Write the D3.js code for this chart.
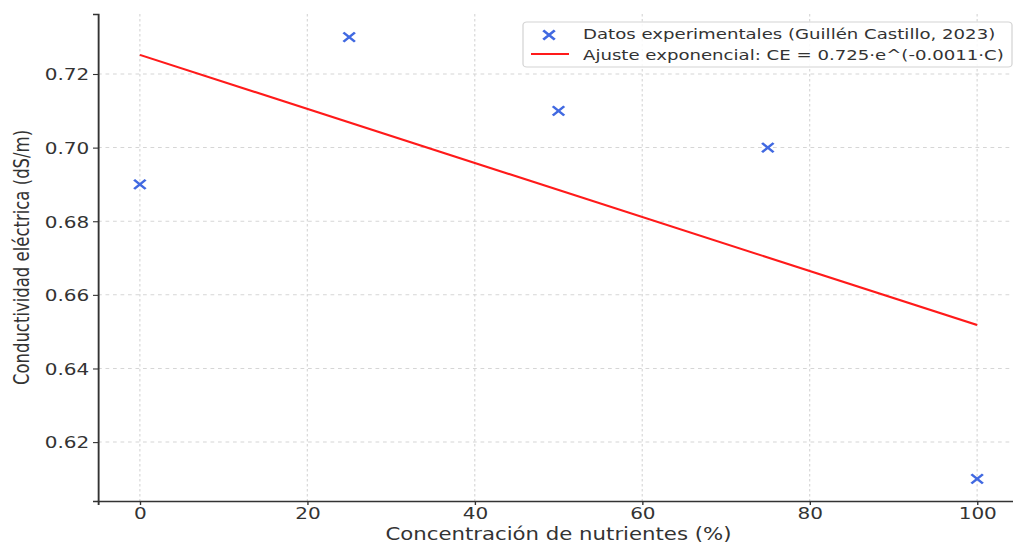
<!DOCTYPE html>
<html>
<head>
<meta charset="utf-8">
<script src="https://cdn.jsdelivr.net/npm/d3@7"></script>
<style>
  body { margin: 0; background: #fff; }
  svg { display: block; }
</style>
</head>
<body>
<div id="chart"></div>
<script>
// data
var concX = [0, 25, 50, 75, 100]
var ceY = [0.69, 0.73, 0.71, 0.70, 0.61]
// fitted curve as drawn (end points)
var fitX = [0, 100]
var fitY = [0.7252, 0.6518]
var xTicks = [0, 20, 40, 60, 80, 100]
var yTicks = [0.62, 0.64, 0.66, 0.68, 0.70, 0.72]
var legendLabels = ["Datos experimentales (Guillén Castillo, 2023)",
                    "Ajuste exponencial: CE = 0.725·e^(-0.0011·C)"]

var width = 1013
    height = 543
// the original picture is stretched sideways, so draw in a squeezed space
var sx = 1.25

var svg = d3.select("#chart")
  .append("svg")
    .attr("width", width)
    .attr("height", height)
var g = svg.append("g")
    .attr("transform", "scale(" + sx + ",1)")

var x = d3.scaleLinear()
  .domain([-5, 105])
  .range([98 / sx, 1019 / sx])
var y = d3.scaleLinear()
  .domain([0.604, 0.7363])
  .range([501, 14])

var font = "DejaVu Sans, sans-serif"

// grid
g.append("g").selectAll("line")
  .data(xTicks)
  .enter().append("line")
    .attr("x1", d => x(d)).attr("x2", d => x(d))
    .attr("y1", y.range()[1]).attr("y2", y.range()[0])
    .attr("stroke", "#d6d6d6").attr("stroke-width", 0.9)
    .attr("stroke-dasharray", "2.5,2.5")
g.append("g").selectAll("line")
  .data(yTicks)
  .enter().append("line")
    .attr("x1", x.range()[0]).attr("x2", x.range()[1])
    .attr("y1", d => y(d)).attr("y2", d => y(d))
    .attr("stroke", "#d6d6d6").attr("stroke-width", 1)
    .attr("stroke-dasharray", "3,3")

// axes
var xAxis = g.append("g")
    .attr("transform", "translate(0," + y.range()[0] + ")")
    .call(d3.axisBottom(x).tickValues(xTicks).tickFormat(d3.format("d")).tickSizeOuter(0).tickSize(4).tickPadding(3))
var yAxis = g.append("g")
    .attr("transform", "translate(" + x.range()[0] + ",0)")
    .call(d3.axisLeft(y).tickValues(yTicks).tickFormat(d3.format(".2f")).tickSizeOuter(0).tickSize(4).tickPadding(3))

;[xAxis, yAxis].forEach(a => {
  a.select(".domain").attr("stroke", "#333").attr("stroke-width", 1.5)
  a.selectAll(".tick line").attr("stroke", "#333").attr("stroke-width", 1.1)
  a.selectAll(".tick text")
    .attr("fill", "#333")
    .style("font-family", font)
    .style("font-size", "16px")
})
xAxis.selectAll(".tick text").attr("dy", "0.71em")
yAxis.selectAll(".tick text").attr("dy", "0.36em")

// axis titles
g.append("text")
  .attr("x", (x.range()[0] + x.range()[1]) / 2)
  .attr("y", 540)
  .attr("text-anchor", "middle")
  .attr("fill", "#333")
  .style("font-family", font)
  .style("font-size", "17px")
  .text("Concentración de nutrientes (%)")
g.append("text")
  .attr("transform", "translate(" + (29 / sx) + "," + ((y.range()[0] + y.range()[1]) / 2) + ") rotate(-90)")
  .attr("text-anchor", "middle")
  .attr("fill", "#333")
  .style("font-family", font)
  .style("font-size", "16.5px")
  .text("Conductividad eléctrica (dS/m)")

// fitted line
var line = d3.line()
  .x(d => x(d[0]))
  .y(d => y(d[1]))
g.append("path")
  .datum(fitX.map((v, i) => [v, fitY[i]]))
  .attr("d", line)
  .attr("fill", "none")
  .attr("stroke", "#ff1a1a")
  .attr("stroke-width", 2)

// experimental points as x markers
var blue = "#4169e1"
function cross(sel, cx, cy, r) {
  sel.append("path")
    .attr("d", "M" + (cx - r) + "," + (cy - r) + "L" + (cx + r) + "," + (cy + r) +
               "M" + (cx - r) + "," + (cy + r) + "L" + (cx + r) + "," + (cy - r))
    .attr("stroke", blue)
    .attr("stroke-width", 2.2)
    .attr("fill", "none")
}
var pts = g.append("g")
concX.forEach((c, i) => cross(pts, x(c), y(ceY[i]), 4.6))

// legend
var lg = g.append("g")
lg.append("rect")
  .attr("x", 523 / sx).attr("y", 22)
  .attr("width", (1012 - 523) / sx).attr("height", 45)
  .attr("rx", 3)
  .attr("fill", "#fff").attr("fill-opacity", 0.85)
  .attr("stroke", "#d4d4d4").attr("stroke-width", 1)
cross(lg, 549 / sx, 35, 4.6)
lg.append("line")
  .attr("x1", 531 / sx).attr("x2", 569 / sx)
  .attr("y1", 54).attr("y2", 54)
  .attr("stroke", "#ff1a1a").attr("stroke-width", 2)
lg.selectAll("text.leg")
  .data(legendLabels)
  .enter().append("text")
    .attr("class", "leg")
    .attr("x", 583 / sx)
    .attr("y", (d, i) => 39.5 + i * 21)
    .attr("fill", "#333")
    .style("font-family", font)
    .style("font-size", "14.5px")
    .text(d => d)
</script>
</body>
</html>
